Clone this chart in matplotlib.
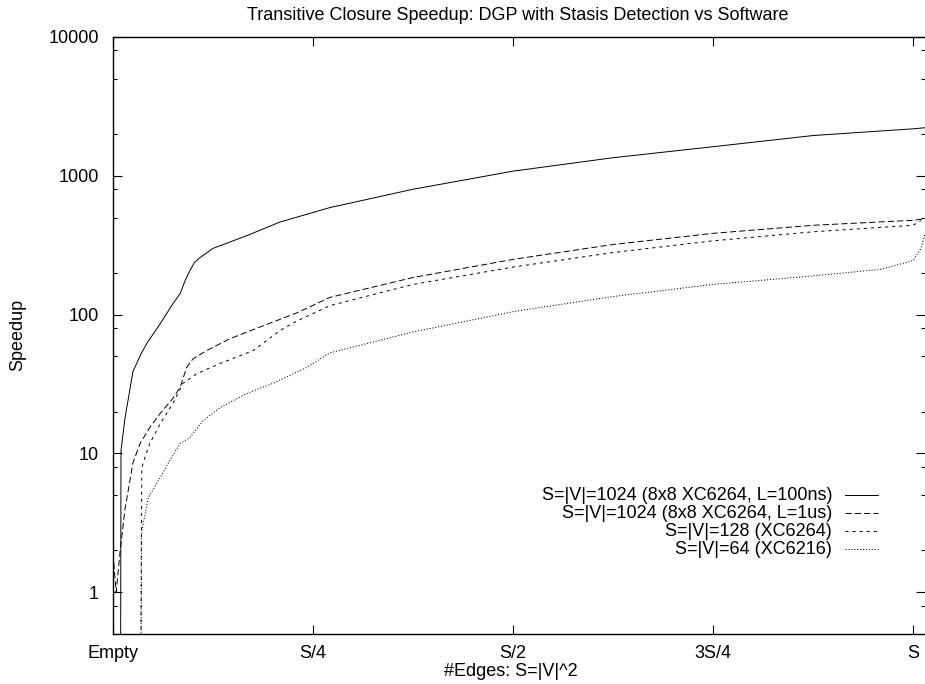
import matplotlib
matplotlib.use("Agg")
import matplotlib.pyplot as plt
from matplotlib.ticker import LogLocator, FixedLocator, NullLocator

plt.rcParams['font.family'] = ['Liberation Sans', 'DejaVu Sans']
plt.rcParams['lines.scale_dashes'] = False

# x is the number of edges as a fraction of S
x_a = [0.0095, 0.010, 0.015, 0.025, 0.035, 0.043, 0.059, 0.075, 0.084, 0.090, 0.096, 0.102, 0.109,
       0.125, 0.167, 0.209, 0.271, 0.375, 0.5, 0.625, 0.75, 0.875, 1.0, 1.015]
y_a = [0.3, 10.5, 18, 39, 52, 63, 86, 120, 142, 175, 207, 238, 258,
       300, 370, 465, 590, 800, 1080, 1350, 1620, 1950, 2180, 2220]

x_b = [0.0, 0.004, 0.009, 0.015, 0.0175, 0.025, 0.034, 0.046, 0.059, 0.075,
       0.084, 0.092, 0.1, 0.117, 0.146, 0.1875, 0.23, 0.271, 0.375, 0.5,
       0.625, 0.75, 0.875, 1.0, 1.015]
y_b = [1.9, 1.0, 2.0, 4.0, 4.8, 8.6, 11.8, 15.4, 19.4, 25,
       30, 41.6, 48, 55, 67, 83, 103, 133, 185, 250,
       320, 385, 440, 478, 490]

x_c = [0.035, 0.0355, 0.036, 0.0375, 0.046, 0.059, 0.075, 0.0875, 0.105, 0.134,
       0.175, 0.192, 0.209, 0.23, 0.271, 0.375, 0.5, 0.625, 0.75, 0.875,
       0.96, 1.0, 1.01]
y_c = [0.3, 2.7, 7.6, 8.5, 11.8, 16.4, 23, 32, 37.6, 44.5,
       55, 65, 77, 90, 116, 165, 220, 280, 340, 395,
       425, 440, 475]

x_d = [0.035, 0.0355, 0.044, 0.059, 0.071, 0.084, 0.096, 0.1125, 0.134, 0.167,
       0.2, 0.242, 0.271, 0.375, 0.5, 0.625, 0.75, 0.875, 0.96, 1.0, 1.01, 1.015]
y_d = [0.3, 2.65, 4.8, 6.7, 8.9, 11.8, 13, 17.2, 21.4, 27,
       32, 41.6, 53, 75, 105, 135, 165, 190, 212, 245, 300, 380]

labels = ["S=|V|=1024 (8x8 XC6264, L=100ns)",
          "S=|V|=1024 (8x8 XC6264, L=1us)",
          "S=|V|=128 (XC6264)",
          "S=|V|=64 (XC6216)"]
styles = ['-', (0, (4.5, 2.2)), (0, (2.2, 2.9)), (0, (0.8, 1.3))]

xtick_pos = [0, 0.25, 0.5, 0.75, 1.0]
xtick_lab = ["Empty", "S/4", "S/2", "3S/4", "S"]

W, H = 925, 684
L, R, T, B = 113, 925, 37, 634
fs = 13
fig = plt.figure(figsize=(W / 100, H / 100), dpi=100)
ax = fig.add_axes([L / W, (H - B) / H, (R - L) / W, (B - T) / H])

lw = 0.7
series = [(x_a, y_a), (x_b, y_b), (x_c, y_c), (x_d, y_d)]
for (xs, ys), st in zip(series, styles):
    ax.plot(xs, ys, color='black', lw=lw, linestyle=st)

ax.set_yscale('log')
ax.set_ylim(0.5, 10000)
ax.set_xlim(0, (R - L) / 800)
ax.xaxis.set_major_locator(FixedLocator(xtick_pos))
ax.set_xticklabels(xtick_lab)
ax.xaxis.set_minor_locator(NullLocator())
ax.yaxis.set_minor_locator(LogLocator(base=10, subs=[2, 5, 8], numticks=10))
ax.set_yticks([1, 10, 100, 1000, 10000])
ax.set_yticklabels(["1", "10", "100", "1000", "10000"])

ax.spines['right'].set_visible(False)
for s in ['left', 'bottom', 'top']:
    ax.spines[s].set_linewidth(1.0)
ax.tick_params(which='both', direction='in', top=True, right=True,
               labelsize=fs, width=0.8)
ax.tick_params(axis='y', pad=10)
ax.tick_params(axis='x', pad=8)
ax.tick_params(which='major', length=6.5)
ax.tick_params(which='minor', length=3)

fig.text(518 / W, 1 - 15 / H, "Transitive Closure Speedup: DGP with Stasis Detection vs Software",
         ha='center', va='center', fontsize=fs)
fig.text(511 / W, 1 - 672 / H, "#Edges: S=|V|^2", ha='center', va='center', fontsize=fs)
fig.text(18 / W, 1 - 335 / H, "Speedup", ha='center', va='center', rotation=90, fontsize=fs)

# key, gnuplot style: right-aligned text with the sample on the right
rows = [495, 513, 531, 549]
for lab, st, py in zip(labels, styles, rows):
    yy = (B - py) / (B - T)
    ax.text((832 - L) / (R - L), yy, lab, transform=ax.transAxes,
            ha='right', va='center', fontsize=fs)
    ax.plot([(845 - L) / (R - L), (878 - L) / (R - L)], [yy, yy],
            transform=ax.transAxes, color='black', lw=lw, linestyle=st)

fig.savefig("out.png", dpi=100)
